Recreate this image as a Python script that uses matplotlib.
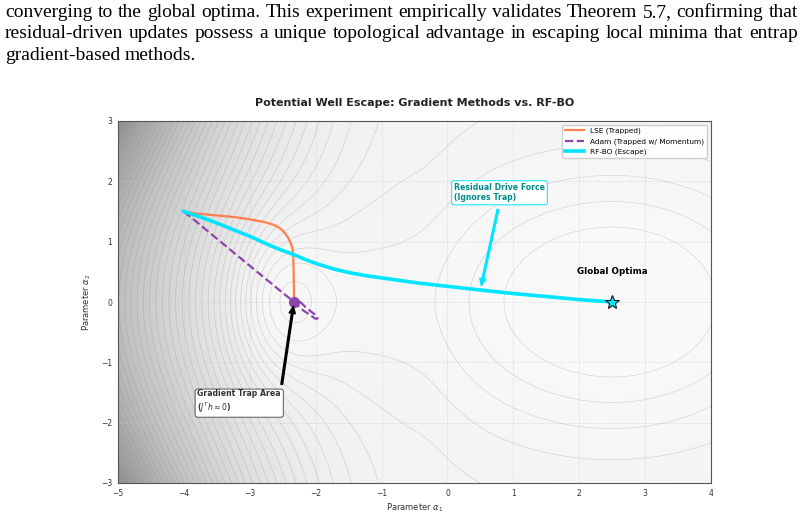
import numpy as np
import matplotlib
matplotlib.use("Agg")
import matplotlib.pyplot as plt
from matplotlib.colors import PowerNorm, LinearSegmentedColormap

# paragraph of the paper shown above the figure
para_lines = [
    "converging to the global optima. This experiment empirically validates Theorem 5.7, confirming that",
    "residual-driven updates possess a unique topological advantage in escaping local minima that entrap",
    "gradient-based methods.",
]

# trajectories
lse_x = [-4.0, -3.76, -3.5, -3.25, -3.0, -2.8, -2.65, -2.55, -2.48, -2.42, -2.38, -2.35, -2.34, -2.335, -2.33, -2.33]
lse_y = [1.5, 1.46, 1.435, 1.41, 1.37, 1.33, 1.285, 1.23, 1.16, 1.07, 0.98, 0.88, 0.75, 0.5, 0.25, 0.0]

adam_x = [-4.0, -3.0, -2.33, -2.2, -2.08, -2.0, -1.97, -2.02, -2.14, -2.26, -2.33]
adam_y = [1.5, 0.6, 0.0, -0.13, -0.22, -0.28, -0.27, -0.2, -0.1, 0.03, 0.0]

rfbo_x = [-4.0, -3.75, -3.48, -3.23, -2.98, -2.72, -2.52, -2.32, -2.15, -1.97, -1.72, -1.46,
          -1.2, -0.97, -0.45, 0.0, 0.49, 1.0, 1.51, 2.0, 2.5]
rfbo_y = [1.5, 1.41, 1.3, 1.19, 1.08, 0.95, 0.86, 0.78, 0.7, 0.63, 0.545, 0.48,
          0.43, 0.395, 0.315, 0.26, 0.2, 0.14, 0.09, 0.04, 0.0]

trap_pt = (-2.33, 0.0)
optimum_pt = (2.5, 0.0)

# landscape parameters
glob_c, glob_depth, glob_sx, glob_sy = 2.5, 3.0, 2.0, 1.58
core_c, core_depth, core_sx, core_sy = -2.57, 2.4, 0.5, 0.9
basin_c, basin_depth, basin_sx, basin_sy = -2.5, 1.5, 1.4, 1.3
ridge_c, ridge_h, ridge_sx, ridge_sy = -0.6, 0.45, 0.6, 2.0
wall_b, wall_x1, wall_c = 0.55, -0.5, 0.06


def gauss_well(x, y, cx, depth, sx, sy):
    return -depth * np.exp(-((x - cx) ** 2 / (2 * sx ** 2) + y ** 2 / (2 * sy ** 2)))


def potential(x, y):
    z = gauss_well(x, y, glob_c, glob_depth, glob_sx, glob_sy)
    z += gauss_well(x, y, core_c, core_depth, core_sx, core_sy)
    z += gauss_well(x, y, basin_c, basin_depth, basin_sx, basin_sy)
    z -= gauss_well(x, y, ridge_c, ridge_h, ridge_sx, ridge_sy)
    z += wall_b * np.clip(wall_x1 - x, 0, None) ** 2 * (1 + wall_c * y ** 2)
    return z


fig = plt.figure(figsize=(8.04, 5.14), dpi=100)
ax = fig.add_axes([118 / 804, 31 / 514, 593 / 804, 362 / 514])

gx = np.linspace(-5, 4, 400)
gy = np.linspace(-3, 3, 300)
X, Y = np.meshgrid(gx, gy)
Z = potential(X, Y)

shade = LinearSegmentedColormap.from_list('shade', ['#f9f9f9', '#909090'])
ax.contourf(X, Y, Z, levels=np.linspace(Z.min(), Z.max(), 120), cmap=shade,
            norm=PowerNorm(gamma=1.5, vmin=Z.min(), vmax=Z.max()))
ax.contour(X, Y, Z, levels=np.arange(Z.min() + 0.8, Z.max(), 0.48), colors='#8a8a8a',
           linewidths=0.45, alpha=0.35, linestyles='solid')

ax.plot(lse_x, lse_y, color='#FF7F50', lw=1.6, label='LSE (Trapped)', zorder=3)
ax.plot(adam_x, adam_y, color='#8E44AD', lw=1.6, ls='--', label='Adam (Trapped w/ Momentum)', zorder=3)
ax.plot(rfbo_x, rfbo_y, color='#00E5FF', lw=2.6, label='RF-BO (Escape)', zorder=4)
ax.plot(*trap_pt, 'o', color='#8E44AD', ms=7, zorder=5)
ax.plot(*optimum_pt, '*', mfc='#00E5FF', mec='black', mew=0.7, ms=10, zorder=6)

ax.annotate('Gradient Trap Area\n($J^T h \\approx 0$)', xy=trap_pt, xytext=(-3.16, -1.66),
            ha='center', va='center', ma='left', fontsize=5.6, fontweight='bold', color='#333333',
            bbox=dict(boxstyle='round,pad=0.3', fc='white', ec='#555555', lw=0.7),
            arrowprops=dict(facecolor='black', edgecolor='black', shrink=0.05, width=1.2,
                            headwidth=4.5, headlength=5), zorder=7)
ax.annotate('Residual Drive Force\n(Ignores Trap)', xy=(0.5, 0.2), xytext=(0.79, 1.81),
            ha='center', va='center', ma='left', fontsize=5.6, fontweight='bold', color='#008B8B',
            bbox=dict(boxstyle='round,pad=0.3', fc='white', ec='#00E5FF', lw=0.7),
            arrowprops=dict(facecolor='#00E5FF', edgecolor='#00E5FF', shrink=0.05, width=1.2,
                            headwidth=4.5, headlength=5), zorder=7)
ax.text(2.5, 0.51, 'Global Optima', ha='center', va='center', fontsize=6.3, fontweight='bold')

ax.set_xlim(-5, 4)
ax.set_ylim(-3, 3)
ax.set_xticks(range(-5, 5))
ax.set_yticks(range(-3, 4))
ax.tick_params(length=0, labelsize=5.5, labelcolor='#333333', pad=4)
ax.set_xticklabels([str(v).replace('-', '\u2212') for v in range(-5, 5)])
ax.set_yticklabels([str(v).replace('-', '\u2212') for v in range(-3, 4)])
ax.grid(True, ls='--', lw=0.5, color='#cccccc', alpha=0.6)
for s in ax.spines.values():
    s.set_color('#555555')
    s.set_linewidth(0.8)
ax.set_xlabel('Parameter $\\alpha_1$', fontsize=6, color='#333333', labelpad=3)
ax.set_ylabel('Parameter $\\alpha_2$', fontsize=6, color='#333333', labelpad=6)
ax.set_title('Potential Well Escape: Gradient Methods vs. RF-BO', fontsize=8, fontweight='bold',
             color='#222222', pad=11)
ax.legend(loc='upper right', fontsize=5.3, framealpha=0.95, edgecolor='#cccccc',
          handlelength=2.6, borderaxespad=0.5)

# paper text, justified like the source page
W = 804
H = 514
renderer = fig.canvas.get_renderer()
baselines = [17, 38.5, 60]
x_left, x_right = 5, 798
for i, line in enumerate(para_lines):
    words = line.split(' ')
    texts = [fig.text(0, 1 - baselines[i] / H, w, family='Liberation Serif', fontsize=14,
                      va='baseline', ha='left') for w in words]
    widths = [t.get_window_extent(renderer).width for t in texts]
    if i < len(para_lines) - 1:
        gap = (x_right - x_left - sum(widths)) / (len(words) - 1)
    else:
        gap = texts[0].get_fontsize() * 100 / 72 * 0.25
    x = x_left
    for t, w in zip(texts, widths):
        t.set_x(x / W)
        x += w + gap

fig.savefig('out.png', dpi=100)
